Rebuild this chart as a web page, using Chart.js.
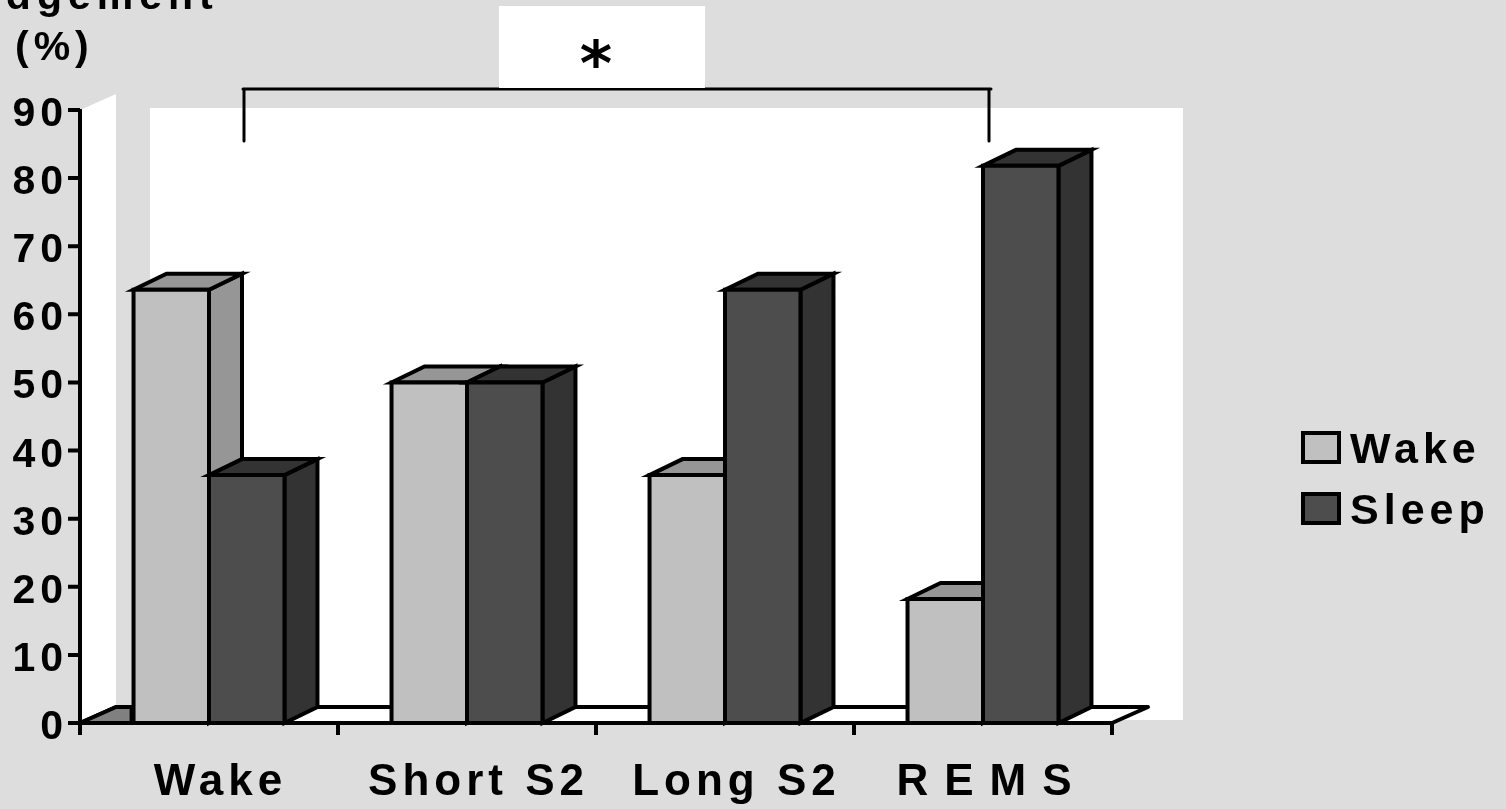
<!DOCTYPE html>
<html>
<head>
<meta charset="utf-8">
<script src="https://cdn.jsdelivr.net/npm/chart.js@4/dist/chart.umd.min.js"></script>
<style>
  html, body { margin: 0; padding: 0; background: #dddddd; overflow: hidden; }
  #wrap { width: 1506px; height: 809px; position: relative; }
</style>
</head>
<body>
<div id="wrap"><canvas id="c"></canvas></div>
<script>
// ---- data ----
const categories = ['Wake', 'Short S2', 'Long S2', 'REMS'];
const seriesNames = ['Wake', 'Sleep'];
const wakeValues = [63.6, 50.0, 36.4, 18.2];
const sleepValues = [36.4, 50.0, 63.6, 81.8];
const yTickValues = [0, 10, 20, 30, 40, 50, 60, 70, 80, 90];
const titleLines = ['Judgement', '(%)'];
const significanceMark = '*';

// ---- style ----
const BG = '#dddddd';
const FRONT = ['#c0c0c0', '#4d4d4d'];
const TOP = ['#969696', '#333333'];
const SIDE = ['#969696', '#333333'];
const FLOOR_SHADE = '#808080';
const INK = '#000000';
const BAR_DEPTH = { dx: 33, dy: -16 };
const WALL_DEPTH = { dx: 36, dy: -16 };
const LINE_W = 4;
const TICK_FONT = 'bold 41px "Liberation Sans", Arial, sans-serif';
const LABEL_FONT = 'bold 44px "Liberation Sans", Arial, sans-serif';
const LEGEND_FONT = 'bold 43px "Liberation Sans", Arial, sans-serif';
// per-label tracking / nudge for the category captions
const LABEL_TRACK = { default: { spacing: 5, shift: 9 }, REMS: { spacing: 16, shift: 1 } };

function poly(ctx, pts, fill) {
  ctx.beginPath();
  ctx.moveTo(pts[0][0], pts[0][1]);
  for (let i = 1; i < pts.length; i++) ctx.lineTo(pts[i][0], pts[i][1]);
  ctx.closePath();
  if (fill) { ctx.fillStyle = fill; ctx.fill(); }
  ctx.stroke();
}

function spacedText(ctx, text, x, y, font, spacing, align) {
  ctx.save();
  ctx.font = font;
  ctx.letterSpacing = spacing + 'px';
  ctx.fillStyle = INK;
  ctx.textBaseline = 'alphabetic';
  const w = ctx.measureText(text).width - spacing;
  let x0 = x;
  if (align === 'center') x0 = x - w / 2;
  else if (align === 'right') x0 = x - w;
  ctx.textAlign = 'left';
  ctx.fillText(text, x0, y);
  ctx.restore();
}

// 3D box for one bar element: front face, top and right side
function drawBox(ctx, bar, si) {
  const p = bar.getProps(['x', 'y', 'base', 'width'], true);
  const L = p.x - p.width / 2, R = p.x + p.width / 2;
  const T = p.y, B = p.base;
  const dx = BAR_DEPTH.dx, dy = BAR_DEPTH.dy;
  ctx.save();
  ctx.strokeStyle = INK;
  ctx.lineWidth = LINE_W;
  ctx.lineJoin = 'miter';
  poly(ctx, [[R, T], [R + dx, T + dy], [R + dx, B + dy], [R, B]], SIDE[si]);
  poly(ctx, [[L, T], [R, T], [R + dx, T + dy], [L + dx, T + dy]], TOP[si]);
  poly(ctx, [[L, T], [R, T], [R, B], [L, B]], FRONT[si]);
  ctx.restore();
}

const scenery = {
  id: 'scenery',
  beforeDraw(chart) {
    const ctx = chart.ctx;
    ctx.save();
    ctx.fillStyle = BG;
    ctx.fillRect(0, 0, chart.width, chart.height);
    ctx.restore();
  },
  beforeDatasetsDraw(chart) {
    const ctx = chart.ctx;
    const a = chart.chartArea;
    const xs = chart.scales.x;
    const step = xs.getPixelForValue(1) - xs.getPixelForValue(0);
    const wx = WALL_DEPTH.dx, wy = WALL_DEPTH.dy;

    // axis title
    spacedText(ctx, titleLines[0], -54, 9, TICK_FONT, 6, 'left');
    spacedText(ctx, titleLines[1], 15, 60, TICK_FONT, 5, 'left');

    ctx.save();
    // back wall
    ctx.fillStyle = '#ffffff';
    ctx.fillRect(a.left + 70, a.top - 2, a.right - a.left + 1, a.bottom - a.top - 1);
    // side wall
    ctx.beginPath();
    ctx.moveTo(a.left, a.top);
    ctx.lineTo(a.left + wx, a.top + wy);
    ctx.lineTo(a.left + wx, a.bottom + wy);
    ctx.lineTo(a.left, a.bottom);
    ctx.closePath();
    ctx.fill();
    // floor
    ctx.strokeStyle = INK;
    ctx.lineWidth = LINE_W;
    ctx.lineJoin = 'round';
    poly(ctx, [[a.left, a.bottom], [a.right, a.bottom], [a.right + wx, a.bottom + wy], [a.left + wx, a.bottom + wy]], '#ffffff');
    const shadeEnd = xs.getPixelForValue(0) - step * 0.3;
    poly(ctx, [[a.left, a.bottom], [shadeEnd, a.bottom], [shadeEnd, a.bottom + wy], [a.left + wx, a.bottom + wy]], FLOOR_SHADE);

    // significance bracket between Wake and REMS
    const bx1 = xs.getPixelForValue(0) + 35;
    const bx2 = xs.getPixelForValue(3) + 6;
    const by = a.top - 21;
    const cx = (a.left + a.right) / 2;
    ctx.lineCap = 'round';
    ctx.lineWidth = 3;
    ctx.beginPath();
    ctx.moveTo(bx1 - 1, by); ctx.lineTo(bx2 + 2, by);
    ctx.moveTo(bx1, by); ctx.lineTo(bx1, a.top + 31);
    ctx.moveTo(bx2, by); ctx.lineTo(bx2, a.top + 31);
    ctx.stroke();
    ctx.fillStyle = '#ffffff';
    ctx.fillRect(cx - 97, 6, 206, by - 7);
    ctx.fillStyle = INK;
    ctx.font = 'bold 62px "DejaVu Sans", sans-serif';
    ctx.textAlign = 'center';
    ctx.textBaseline = 'alphabetic';
    ctx.fillText(significanceMark, cx, 85);
    ctx.restore();
  },
  afterDatasetsDraw(chart) {
    const ctx = chart.ctx;
    const a = chart.chartArea;
    const xs = chart.scales.x, ys = chart.scales.y;
    const step = xs.getPixelForValue(1) - xs.getPixelForValue(0);
    const metas = [chart.getDatasetMeta(0), chart.getDatasetMeta(1)];

    // boxes drawn category by category, back series first
    for (let i = 0; i < categories.length; i++) {
      for (let s = 0; s < metas.length; s++) drawBox(ctx, metas[s].data[i], s);
    }

    ctx.save();
    ctx.strokeStyle = INK;
    ctx.lineWidth = LINE_W;
    ctx.lineCap = 'butt';
    // value axis + ticks
    ctx.beginPath();
    ctx.moveTo(a.left, a.top - 1); ctx.lineTo(a.left, a.bottom + 2);
    yTickValues.forEach(v => {
      const y = ys.getPixelForValue(v);
      ctx.moveTo(a.left - 12, y); ctx.lineTo(a.left, y);
    });
    // category axis + ticks at boundaries
    ctx.moveTo(a.left, a.bottom); ctx.lineTo(a.right, a.bottom);
    for (let i = 0; i <= categories.length; i++) {
      const x = xs.getPixelForValue(0) - step / 2 + i * step;
      ctx.moveTo(x, a.bottom); ctx.lineTo(x, a.bottom + 12);
    }
    ctx.stroke();
    ctx.restore();

    yTickValues.forEach(v => {
      spacedText(ctx, String(v), a.left - 17, ys.getPixelForValue(v) + 16, TICK_FONT, 5, 'right');
    });
    categories.forEach((c, i) => {
      const t = LABEL_TRACK[c] || LABEL_TRACK.default;
      spacedText(ctx, c, xs.getPixelForValue(i) + t.shift, a.bottom + 72, LABEL_FONT, t.spacing, 'center');
    });

    // legend
    ctx.save();
    ctx.strokeStyle = INK;
    ctx.lineWidth = LINE_W;
    const lx = 1303, ly = [433, 494];
    seriesNames.forEach((n, s) => {
      ctx.fillStyle = FRONT[s];
      ctx.fillRect(lx, ly[s], 36, 29);
      ctx.strokeRect(lx, ly[s], 36, 29);
      spacedText(ctx, n, 1350, ly[s] + 30, LEGEND_FONT, 5, 'left');
    });
    ctx.restore();
  }
};

new Chart(document.getElementById('c'), {
  type: 'bar',
  data: {
    labels: categories,
    datasets: [
      { label: seriesNames[0], data: wakeValues, backgroundColor: FRONT[0], borderWidth: 0 },
      { label: seriesNames[1], data: sleepValues, backgroundColor: FRONT[1], borderWidth: 0 }
    ]
  },
  options: {
    responsive: true,
    maintainAspectRatio: false,
    devicePixelRatio: 1,
    animation: false,
    events: [],
    layout: { padding: { left: 80, top: 110, right: 394, bottom: 86 } },
    datasets: { bar: { categoryPercentage: 0.585, barPercentage: 1.0 } },
    scales: {
      x: { display: false, offset: true },
      y: { display: false, min: 0, max: 90 }
    },
    plugins: { legend: { display: false }, tooltip: { enabled: false }, title: { display: false } }
  },
  plugins: [scenery]
});
</script>
</body>
</html>
